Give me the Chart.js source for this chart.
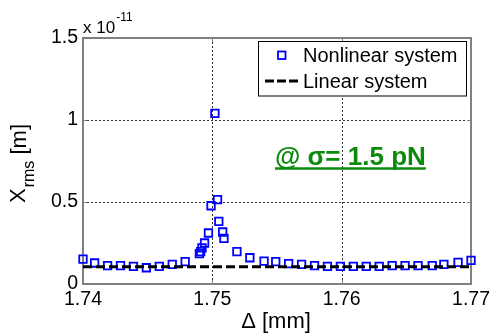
<!DOCTYPE html>
<html>
<head>
<meta charset="utf-8">
<script src="https://cdn.jsdelivr.net/npm/chart.js@4/dist/chart.umd.min.js"></script>
<style>
  html, body { margin: 0; padding: 0; background: #fff; overflow: hidden; }
  #wrap { width: 494px; height: 334px; }
</style>
</head>
<body>
<div id="wrap"><canvas id="c" width="494" height="334"></canvas></div>
<script>
// Detuning Δ [mm] of the nonlinear sweep
const detuning = [
  1.7400, 1.7409, 1.7419, 1.7429, 1.7439, 1.7449, 1.7459, 1.7469, 1.7479,
  1.7490, 1.7491, 1.7492, 1.7494, 1.7497, 1.7499, 1.7502, 1.7504, 1.7505,
  1.7508, 1.7509, 1.7519, 1.7529, 1.7540, 1.7549, 1.7559, 1.7569, 1.7579,
  1.7589, 1.7599, 1.7609, 1.7619, 1.7629, 1.7639, 1.7649, 1.7659, 1.7670,
  1.7679, 1.7690, 1.7700
];
// RMS displacement of the nonlinear system, in units of 1e-11 m
const xrmsNonlinear = [
  0.152, 0.128, 0.112, 0.112, 0.107, 0.099, 0.107, 0.120, 0.136,
  0.185, 0.197, 0.220, 0.250, 0.311, 0.477, 1.040, 0.514, 0.382,
  0.317, 0.278, 0.197, 0.160, 0.140, 0.136, 0.124, 0.120, 0.112,
  0.107, 0.107, 0.107, 0.107, 0.107, 0.112, 0.112, 0.112, 0.112,
  0.120, 0.132, 0.144
];
// Linear system reference level (units of 1e-11 m)
const linearDelta = [1.74, 1.77];
const xrmsLinear = [0.105, 0.105];

const xTicks = [1.74, 1.75, 1.76, 1.77];
const xTickLabels = ['1.74', '1.75', '1.76', '1.77'];
const yTicks = [0, 0.5, 1, 1.5];
const yTickLabels = ['0', '0.5', '1', '1.5'];
const seriesNames = ['Nonlinear system', 'Linear system'];
const yExponent = '-11';
const forceNote = '@ σ= 1.5 pN';

const FONT = "'Liberation Sans', Arial, sans-serif";
const MARKER_BLUE = '#0000ff';
const NOTE_GREEN = '#0b8a0b';
const FRAME_GRAY = '#7f7f7f';

// Axes box, dotted grid and inward tick marks
const axesFrame = {
  id: 'axesFrame',
  beforeDatasetsDraw(chart) {
    const { ctx, chartArea: a, scales: { x, y } } = chart;
    ctx.save();
    ctx.strokeStyle = '#333';
    ctx.lineWidth = 1;
    ctx.setLineDash([2, 2]);
    xTicks.slice(1, -1).forEach(v => {
      const px = Math.round(x.getPixelForValue(v)) + 0.5;
      ctx.beginPath(); ctx.moveTo(px, a.top); ctx.lineTo(px, a.bottom); ctx.stroke();
    });
    yTicks.slice(1, -1).forEach(v => {
      const py = Math.round(y.getPixelForValue(v)) + 0.5;
      ctx.beginPath(); ctx.moveTo(a.left, py); ctx.lineTo(a.right, py); ctx.stroke();
    });
    ctx.setLineDash([]);
    ctx.strokeStyle = FRAME_GRAY;
    ctx.lineWidth = 1;
    const tl = 4;
    xTicks.forEach(v => {
      const px = Math.round(x.getPixelForValue(v)) + 0.5;
      ctx.beginPath();
      ctx.moveTo(px, a.bottom); ctx.lineTo(px, a.bottom - tl);
      ctx.moveTo(px, a.top); ctx.lineTo(px, a.top + tl);
      ctx.stroke();
    });
    yTicks.forEach(v => {
      const py = Math.round(y.getPixelForValue(v)) + 0.5;
      ctx.beginPath();
      ctx.moveTo(a.left, py); ctx.lineTo(a.left + tl, py);
      ctx.moveTo(a.right, py); ctx.lineTo(a.right - tl, py);
      ctx.stroke();
    });
    ctx.lineWidth = 2;
    ctx.strokeRect(a.left, a.top, a.right - a.left, a.bottom - a.top);
    ctx.restore();
  }
};

// Axis titles, exponent label, legend box and force annotation
const decorations = {
  id: 'decorations',
  afterDraw(chart) {
    const { ctx, chartArea: a } = chart;
    ctx.save();
    ctx.fillStyle = '#000';
    ctx.textBaseline = 'alphabetic';

    // exponent of the y axis
    ctx.font = '17px ' + FONT;
    ctx.textAlign = 'left';
    ctx.fillText('x 10', a.left, 33);
    const w10 = ctx.measureText('x 10').width;
    ctx.font = '12px ' + FONT;
    ctx.fillText(yExponent, a.left + w10 + 1, 21);

    // x title
    ctx.font = '22px ' + FONT;
    ctx.textAlign = 'center';
    ctx.textBaseline = 'middle';
    ctx.fillText('Δ [mm]', 276, 322);

    // y title, rotated, with subscript
    ctx.translate(25, 203);
    ctx.rotate(-Math.PI / 2);
    ctx.textAlign = 'left';
    ctx.textBaseline = 'alphabetic';
    ctx.font = '22px ' + FONT;
    ctx.fillText('X', 0, 0);
    let cx = ctx.measureText('X').width + 1;
    ctx.font = '16px ' + FONT;
    ctx.fillText('rms', cx, 9);
    cx += ctx.measureText('rms').width;
    ctx.font = '22px ' + FONT;
    ctx.fillText(' [m]', cx, 1);
    ctx.setTransform(1, 0, 0, 1, 0, 0);

    // legend
    ctx.fillStyle = '#fff';
    ctx.fillRect(258.5, 41.5, 208, 54.5);
    ctx.strokeStyle = '#000';
    ctx.lineWidth = 1;
    ctx.strokeRect(258.5, 41.5, 208, 54.5);
    ctx.strokeStyle = MARKER_BLUE;
    ctx.lineWidth = 1.8;
    ctx.strokeRect(278, 51.5, 7.5, 7.5);
    ctx.strokeStyle = '#000';
    ctx.lineWidth = 3;
    ctx.setLineDash([9, 3]);
    ctx.beginPath(); ctx.moveTo(265, 81); ctx.lineTo(298, 81); ctx.stroke();
    ctx.setLineDash([]);
    ctx.fillStyle = '#000';
    ctx.font = '20px ' + FONT;
    ctx.fillText(seriesNames[0], 303, 62);
    ctx.fillText(seriesNames[1], 303, 88);

    // force annotation
    ctx.fillStyle = NOTE_GREEN;
    ctx.strokeStyle = NOTE_GREEN;
    ctx.font = 'bold 26px ' + FONT;
    ctx.fillText(forceNote, 275, 165);
    const wn = ctx.measureText(forceNote).width;
    ctx.lineWidth = 2.5;
    ctx.beginPath(); ctx.moveTo(275, 168.5); ctx.lineTo(275 + wn, 168.5); ctx.stroke();
    ctx.restore();
  }
};

const tickFont = { family: FONT, size: 19.5 };

new Chart(document.getElementById('c'), {
  type: 'scatter',
  data: {
    datasets: [
      {
        label: seriesNames[0],
        data: detuning.map((d, i) => ({ x: d, y: xrmsNonlinear[i] })),
        showLine: false,
        pointStyle: 'rect',
        pointRadius: 5.3,
        pointBorderWidth: 1.8,
        pointBorderColor: MARKER_BLUE,
        pointBackgroundColor: 'rgba(0,0,0,0)',
        clip: false,
        order: 1
      },
      {
        label: seriesNames[1],
        data: linearDelta.map((d, i) => ({ x: d, y: xrmsLinear[i] })),
        showLine: true,
        borderColor: '#000',
        borderWidth: 3,
        borderDash: [9, 4],
        pointRadius: 0,
        clip: false,
        order: 0
      }
    ]
  },
  options: {
    responsive: false,
    animation: false,
    devicePixelRatio: 1,
    layout: { padding: { top: 38, right: 21, bottom: 0, left: 0 } },
    plugins: { legend: { display: false }, tooltip: { enabled: false } },
    scales: {
      x: {
        type: 'linear',
        min: 1.74, max: 1.77,
        afterBuildTicks: s => { s.ticks = xTicks.map(v => ({ value: v })); },
        afterFit: s => { s.height = 50; },
        ticks: {
          callback: (v, i) => xTickLabels[i],
          font: tickFont, color: '#000', padding: 4,
          maxRotation: 0, autoSkip: false
        },
        grid: { display: false, drawTicks: false },
        border: { display: false }
      },
      y: {
        type: 'linear',
        min: 0, max: 1.5,
        afterBuildTicks: s => { s.ticks = yTicks.map(v => ({ value: v })); },
        afterFit: s => { s.width = 83; },
        ticks: {
          callback: (v, i) => yTickLabels[i],
          font: tickFont, color: '#000', padding: 5, autoSkip: false
        },
        grid: { display: false, drawTicks: false },
        border: { display: false }
      }
    }
  },
  plugins: [axesFrame, decorations]
});
</script>
</body>
</html>
